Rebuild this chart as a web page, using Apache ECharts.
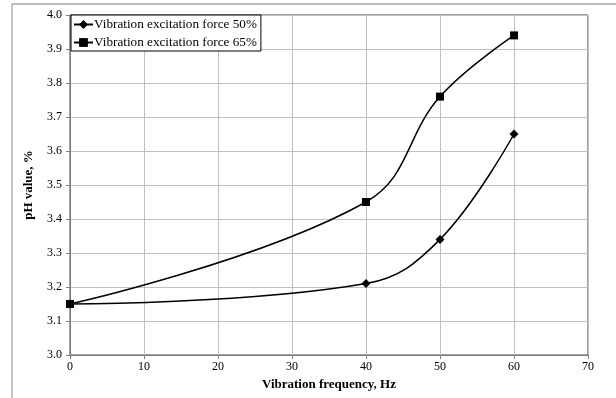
<!DOCTYPE html>
<html>
<head>
<meta charset="utf-8">
<script src="https://cdn.jsdelivr.net/npm/echarts@6/dist/echarts.min.js"></script>
<style>
  html, body { margin: 0; padding: 0; background: #fff; }
  #chart { width: 616px; height: 398px; }
</style>
</head>
<body>
<div id="chart"></div>
<script>
// frequency (Hz) per measured point
var frequency = [0, 40, 50, 60];
var force50 = [3.15, 3.21, 3.34, 3.65];
var force65 = [3.15, 3.45, 3.76, 3.94];
var seriesNames = ['Vibration excitation force 50%', 'Vibration excitation force 65%'];

function pairs(xs, ys) {
  return xs.map(function (x, i) { return [x, ys[i]]; });
}

var chart = echarts.init(document.getElementById('chart'));
var font = 'Liberation Serif';

var option = {
  animation: false,
  textStyle: { fontFamily: font },
  graphic: [
    { type: 'line', shape: { x1: 12, y1: 4, x2: 616, y2: 4 }, style: { stroke: '#bdbdbd', lineWidth: 2 } },
    { type: 'line', shape: { x1: 12, y1: 4, x2: 12, y2: 398 }, style: { stroke: '#8c8c8c', lineWidth: 1 } }
  ],
  grid: {
    left: 70, right: 28, top: 15, bottom: 43,
    show: true, borderColor: '#404040', borderWidth: 1
  },
  legend: {
    orient: 'vertical',
    left: 71, top: 15,
    padding: [2, 4, 1, 2],
    itemGap: 3,
    itemWidth: 19, itemHeight: 11,
    borderColor: '#000', borderWidth: 1,
    backgroundColor: '#fff',
    textStyle: { fontFamily: font, fontSize: 13.2, lineHeight: 15, color: '#000', padding: [0, 0, 0, -4] },
    data: seriesNames
  },
  xAxis: {
    type: 'value',
    min: 0, max: 70, interval: 10,
    name: 'Vibration frequency, Hz',
    nameLocation: 'middle',
    nameGap: 17,
    nameTextStyle: { fontFamily: font, fontSize: 13, fontWeight: 'bold', color: '#000' },
    axisLine: { lineStyle: { color: '#808080' } },
    axisTick: { show: true, length: 4, inside: false, lineStyle: { color: '#808080' } },
    axisLabel: { fontFamily: font, fontSize: 12, color: '#000', margin: 6 },
    splitLine: { show: true, lineStyle: { color: '#c0c0c0' } }
  },
  yAxis: {
    type: 'value',
    min: 3.0, max: 4.0, interval: 0.1,
    name: 'pH value, %',
    nameLocation: 'middle',
    nameGap: 35,
    nameRotate: 90,
    nameTextStyle: { fontFamily: font, fontSize: 13, fontWeight: 'bold', color: '#000' },
    axisLine: { show: true, lineStyle: { color: '#808080' } },
    axisTick: { show: true, length: 4, lineStyle: { color: '#808080' } },
    axisLabel: {
      fontFamily: font, fontSize: 12, color: '#000', margin: 8,
      formatter: function (v) { return v.toFixed(1); }
    },
    splitLine: { show: true, lineStyle: { color: '#c0c0c0' } }
  },
  series: [
    {
      name: seriesNames[0],
      type: 'line',
      data: pairs(frequency, force50),
      smooth: 0.4,
      symbol: 'diamond',
      symbolSize: 9,
      itemStyle: { color: '#000' },
      lineStyle: { color: '#000', width: 1.5 }
    },
    {
      name: seriesNames[1],
      type: 'line',
      data: pairs(frequency, force65),
      smooth: 0.4,
      symbol: 'rect',
      symbolSize: 8,
      itemStyle: { color: '#000' },
      lineStyle: { color: '#000', width: 1.5 }
    }
  ]
};

chart.setOption(option);
</script>
</body>
</html>
